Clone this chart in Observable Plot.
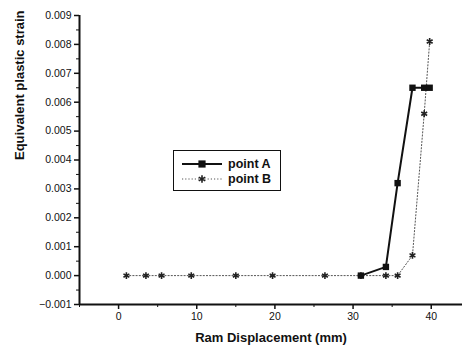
<!DOCTYPE html>
<html>
<head>
<meta charset="utf-8">
<script src="https://cdn.jsdelivr.net/npm/d3@7"></script>
<script src="https://cdn.jsdelivr.net/npm/@observablehq/plot@0.6"></script>
<style>
  body { margin: 0; background: #fff; font-family: "Liberation Sans", Arial, sans-serif; }
  #wrap { position: relative; width: 465px; height: 349px; }
  #legend { position: absolute; left: 173px; top: 150px; width: 108px; height: 41px;
            border: 1px solid #111; box-sizing: border-box; background: #fff; }
  .row { position: absolute; left: 0; height: 14px; display: flex; align-items: center; }
  .row span { font: bold 12.5px "Liberation Sans", Arial, sans-serif; color: #111; margin-left: 6px; }
</style>
</head>
<body>
<div id="wrap"></div>
<script>
// Data
const seriesNames = ["point A", "point B"];
const dispA = [31, 34.2, 35.7, 37.6, 39.1, 39.8];
const strainA = [0, 0.0003, 0.0032, 0.0065, 0.0065, 0.0065];
const dispB = [1, 3.5, 5.5, 9.3, 15, 19.7, 26.4, 31, 34.2, 35.7, 37.6, 39.1, 39.8];
const strainB = [0, 0, 0, 0, 0, 0, 0, 0, 0, 0, 0.0007, 0.0056, 0.0081];
const xTicks = [0, 10, 20, 30, 40];
const xMinor = [-5, 5, 15, 25, 35];
const yTicks = [-0.001, 0, 0.001, 0.002, 0.003, 0.004, 0.005, 0.006, 0.007, 0.008, 0.009];
const yMinor = [-0.0005, 0.0005, 0.0015, 0.0025, 0.0035, 0.0045, 0.0055, 0.0065, 0.0075, 0.0085];
const xTitle = "Ram Displacement (mm)";
const yTitle = "Equivalent plastic strain";

const A = dispA.map((d, i) => ({x: d, y: strainA[i]}));
const B = dispB.map((d, i) => ({x: d, y: strainB[i]}));

const xDomain = [-5, 44];
const yDomain = [-0.001, 0.009];

const chart = Plot.plot({
  width: 465,
  height: 349,
  marginLeft: 79,
  marginRight: 3,
  marginTop: 15,
  marginBottom: 45,
  style: {fontFamily: "'Liberation Sans', Arial, sans-serif", fontSize: "10.5px", color: "#111", background: "#fff"},
  x: {domain: xDomain},
  y: {domain: yDomain},
  marks: [
    Plot.ruleX([xDomain[0]], {stroke: "#111", strokeWidth: 2}),
    Plot.ruleY([yDomain[0]], {stroke: "#111", strokeWidth: 2}),
    Plot.axisX({ticks: xTicks, tickSize: 5, tickPadding: 3, tickFormat: d3.format("d"), label: null, strokeWidth: 1.5}),
    Plot.axisX({ticks: xMinor, tickSize: 3, tickFormat: () => "", label: null}),
    Plot.axisY({ticks: yTicks, tickSize: 5, tickPadding: 3, tickFormat: d3.format(".3f"), label: null, strokeWidth: 1.5}),
    Plot.axisY({ticks: yMinor, tickSize: 3, tickFormat: () => "", label: null}),
    Plot.line(B, {x: "x", y: "y", stroke: "#555", strokeWidth: 1, strokeDasharray: "1.2,2"}),
    Plot.dot(B, {x: "x", y: "y", symbol: "asterisk", r: 3.2, stroke: "#222", strokeWidth: 1.6}),
    Plot.line(A, {x: "x", y: "y", stroke: "#111", strokeWidth: 2}),
    Plot.dot(A, {x: "x", y: "y", symbol: "square", r: 3.6, fill: "#111", stroke: "none"}),
    Plot.text([xTitle], {frameAnchor: "bottom", dy: 37, fontWeight: "bold", fontSize: 13, fill: "#111"}),
    Plot.text([yTitle], {frameAnchor: "left", dx: -60, rotate: -90, fontWeight: "bold", fontSize: 13, fill: "#111"})
  ]
});

const wrap = document.getElementById("wrap");
wrap.appendChild(chart);

// Legend
const legend = document.createElement("div");
legend.id = "legend";
const ns = "http://www.w3.org/2000/svg";
seriesNames.forEach((name, i) => {
  const row = document.createElement("div");
  row.className = "row";
  row.style.top = (i === 0 ? 6 : 21) + "px";
  row.style.left = "8px";
  const svg = document.createElementNS(ns, "svg");
  svg.setAttribute("width", 40);
  svg.setAttribute("height", 14);
  const line = document.createElementNS(ns, "line");
  line.setAttribute("x1", 0); line.setAttribute("x2", 40);
  line.setAttribute("y1", 7); line.setAttribute("y2", 7);
  if (i === 0) {
    line.setAttribute("stroke", "#111"); line.setAttribute("stroke-width", 2);
  } else {
    line.setAttribute("stroke", "#555"); line.setAttribute("stroke-width", 1);
    line.setAttribute("stroke-dasharray", "1.2,2");
  }
  svg.appendChild(line);
  if (i === 0) {
    const r = document.createElementNS(ns, "rect");
    r.setAttribute("x", 16.4); r.setAttribute("y", 3.4); r.setAttribute("width", 7.2); r.setAttribute("height", 7.2);
    r.setAttribute("fill", "#111");
    svg.appendChild(r);
  } else {
    const p = document.createElementNS(ns, "path");
    const s = d3.symbol(d3.symbolAsterisk, 40)();
    p.setAttribute("d", s);
    p.setAttribute("transform", "translate(20,7)");
    p.setAttribute("stroke", "#222"); p.setAttribute("stroke-width", 1.6); p.setAttribute("fill", "none");
    svg.appendChild(p);
  }
  row.appendChild(svg);
  const t = document.createElement("span");
  t.textContent = name;
  row.appendChild(t);
  legend.appendChild(row);
});
wrap.appendChild(legend);
</script>
</body>
</html>
